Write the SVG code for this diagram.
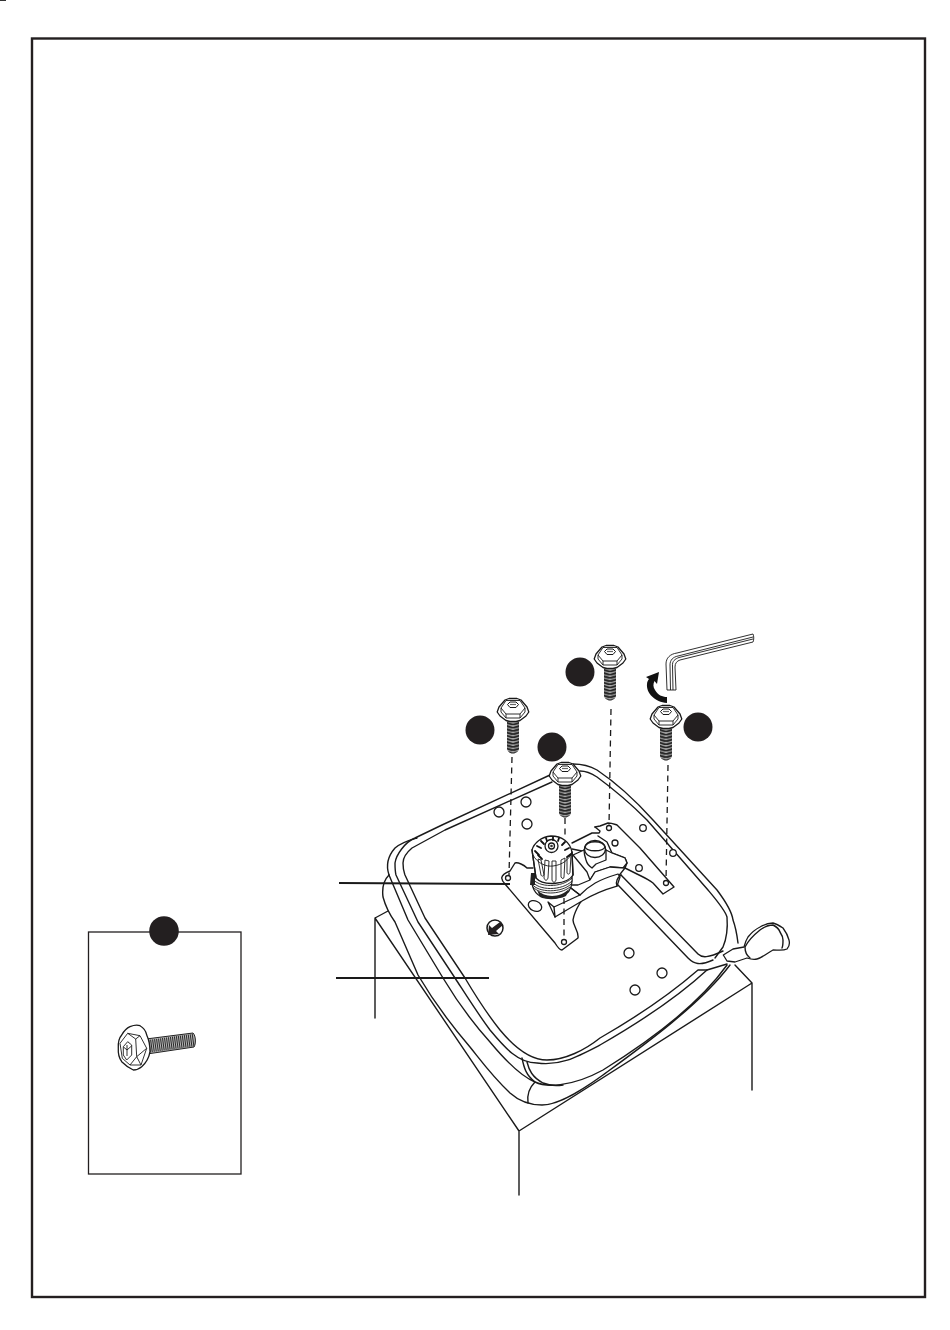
<svg xmlns="http://www.w3.org/2000/svg" xmlns:xlink="http://www.w3.org/1999/xlink" width="950" height="1330" viewBox="0 0 950 1330">
<style>
.l{fill:none;stroke:#1a1a1a;stroke-width:1.4;stroke-linejoin:round;stroke-linecap:round}
.w{fill:#fff;stroke:#1a1a1a;stroke-width:1.3;stroke-linejoin:round}
.t{fill:none;stroke:#1a1a1a;stroke-width:0.9;stroke-linejoin:round}
.h{fill:#fff;stroke:#1a1a1a;stroke-width:1.3}
.d{fill:none;stroke:#1a1a1a;stroke-width:1.3;stroke-dasharray:6 4.5}
.b{fill:#231f20}
</style>
<defs>
<pattern id="thread" patternUnits="userSpaceOnUse" width="12" height="3.2" x="-6" y="12">
<rect width="12" height="3.2" fill="#a8a8a8"/>
<path d="M-1,0.600L6,2.800L13,0.600" fill="none" stroke="#262626" stroke-width="1.900"/>
</pattern>
<g id="screw">
<path d="M-6,11V39C-6,41 -3,43.500 0,43.500C3,43.500 6,41 6,39V11Z" fill="url(#thread)"/>
<path class="w" d="M-15.800,2L-14,-3L-8,-10L-4,-11.500H4L8,-10L14,-3L15.800,2L13,6L7,10.500L3,11.500H-3L-7,10.500L-13,6Z"/>
<path class="t" d="M-12,-2L-7,-9.500H7L12,-2L7,4H-7Z"/>
<path class="t" d="M-12,-2V2L-7,8H7L12,2V-2M-7,4V8M7,4V8"/>
<path d="M-5.500,-5.500L-3,-8H3L5.500,-5.500L3,-2.500H-3Z" fill="#fff" stroke="#1a1a1a" stroke-width="1"/>
<path d="M-3,-5.500H3" stroke="#666" stroke-width="1.200"/>
</g>
</defs>
<rect x="0" y="0" width="6" height="1" fill="#333"/>
<rect id="frame" x="32" y="38.500" width="893" height="1258.500" fill="none" stroke="#231f20" stroke-width="2.400"/>

<g id="box">
<path class="l" d="M388,911L375,918V1018M375,918L519,1131V1195M519,1131L752,983V1090M752,983L735,965"/>
</g>

<g id="seat">
<path class="l" d="M389,875C386,866 388,856 395,848C402,842 410,840 417,838"/>
<path class="l" d="M389,875C383,881 382,889 383,897C386,908 390,915 395,922L418,975C435,1004 452,1026 470,1047C482,1062 492,1076 510,1093C520,1102 530,1105 542,1105C560,1105 585,1088 603,1075C640,1048 700,1005 730,965"/>
<path class="l" d="M389,875L408,920L443,978C458,1003 472,1022 490,1042C505,1060 520,1076 535,1082C545,1087 570,1088 603,1070C640,1047 695,1010 727,965"/>
<path class="l" d="M550,775L442,825L415,838C405,842 396,855 395,863C395,868 395,871 396,875L418,922L455,978C468,998 478,1014 490,1030C505,1048 518,1063 537,1063C560,1066 575,1058 600,1045C640,1022 680,995 707,970L727,964"/>
<path class="l" d="M552,782L445,830L412,848C406,853 403,858 403,863C403,870 404,872 405,875L425,918L465,978C478,1000 488,1015 500,1030C515,1048 530,1060 547,1060C565,1060 585,1050 600,1038C640,1015 675,990 698,970L707,970"/>
<path class="l" d="M522,1058C524,1068 526,1075 535,1082M527,1062C529,1070 532,1077 543,1083C550,1086 556,1086 563,1085M535,1082C529,1088 527,1096 528,1103"/>
<path class="l" d="M573,764C582,764 590,766 597,770C615,782 635,800 653,820L717,890C726,902 732,912 733,920C736,928 737,935 738,943"/>
<path class="l" d="M580,771C587,771 591,773 597,777C612,788 630,803 647,820L708,890C718,902 725,910 727,917C728,930 726,940 723,947L715,958"/>
</g>

<g id="lever">
<path class="w" d="M723.300,955L733,949L744,947C745,943 746,940 748,937C752,932 756,929 760,927C765,924 769,923 773,923C777,924 780,926 783,928C786,932 788,936 789,940C790,944 789,947 787,949C783,951 778,950 773,950C767,953 762,958 757,959C753,960 750,959 747,958L735,962L727,961Z"/>
<path class="l" d="M745,947C749,939 755,934 760,930C764,927 769,925 773,925C777,927 779,929 780,932C782,935 783,937 783,940C783,943 783,946 782,948M745,947C745,951 746,955 750,958"/>
</g>

<g id="holes">
<circle class="h" cx="499" cy="812" r="5"/>
<circle class="h" cx="526" cy="802" r="5"/>
<circle class="h" cx="527" cy="824" r="5"/>
<circle class="h" cx="643" cy="828" r="3.300"/>
<circle class="h" cx="615" cy="843" r="3"/>
<circle class="h" cx="639" cy="868" r="3.300"/>
<circle class="h" cx="673" cy="853" r="3.300"/>
<circle class="h" cx="629" cy="953" r="5"/>
<circle class="h" cx="662" cy="973" r="5"/>
<circle class="h" cx="635" cy="990" r="5"/>
</g>

<g id="warning">
<circle cx="495" cy="928" r="8" fill="#fff" stroke="#1a1a1a" stroke-width="1.500"/>
<path d="M500,922L503,925L496,931L499,934L488,935L489,925L492,928Z" fill="#231f20"/>
</g>

<g id="plate">
<path class="l" d="M533,868L527,868C524,865 518,862 515,863L510,871C505,873 502,875 501.700,878C502,881 503,882 505,884L555,943C558,948 560,950 562,950L578,938C579,931 573,926 573,920C574,913 577,908 580,903C584,897 588,893 593,890C600,886 610,882 617,878"/>
<path class="l" d="M595,827L600,826L608,823C612,823 614,824 617,825L627,835L640,848L674,887L663,894L653,883C648,879 643,877 637,874L625,868"/>
<path class="l" d="M572,843L592,833L599,833C600,832 600,831 600,831L595,827"/>
<path class="l" d="M598,836L607,842L612,853L625,858L627,863L625,868"/>
<path class="l" d="M572,849L582,851"/>
<path class="w" d="M573,855L587,872L590,880L595,872L610,867L623,868L627,863L625,858L612,853L606,850H584Z"/>
<path class="w" d="M584,850C584,854 585,857 586,860C587,864 589,866 592,868L596,864L606,860V850Z"/>
<ellipse class="w" cx="595" cy="849" rx="10.500" ry="8.500"/>
<path class="w" d="M585,847C587,840 603,840 605,847C603,852 587,852 585,847Z"/>
<path class="w" d="M567,885L580,895L617,878L625,868L610,867L595,872L590,880L578,885Z" stroke="none"/>
<path class="w" d="M548,902L554,907L580,895C590,885 598,880 618,874L620,877L617,886C603,890 590,896 582,901L555,917Z"/>
<path class="l" d="M567,885L580,895M554,907L555,917"/>
<ellipse class="w" cx="535" cy="906" rx="7" ry="5" transform="rotate(25 535 906)"/>
<circle class="h" cx="508" cy="878" r="2.500"/>
<circle class="h" cx="564" cy="942" r="2.500"/>
<circle class="h" cx="609" cy="828" r="2.500"/>
<circle class="h" cx="666" cy="883" r="2.500"/>
</g>

<g id="tube">
<path class="l" d="M621,875L698,954C702,958 708,958 723,951"/>
<path class="l" d="M618,885L688,958C694,964 700,966 713,960"/>
<path class="l" d="M617,886C615,882 618,877 621,875"/>
</g>

<g id="knob">
<path class="w" d="M533,874C530,883 533,892 540,896C547,899 558,899 565,895C571,891 573,884 572,874Z"/>
<path d="M537,890C545,898 560,898 569,889L566,896C558,900 546,900 540,897Z" fill="#222"/>
<path class="t" d="M532,878C538,888 562,888 572,878M532,881C538,891 562,891 572,881M532,884C538,893 562,893 571,884M533,887C540,895 560,895 570,887M534,875C540,885 562,885 572,875" stroke-width="1.500"/>
<path d="M531,873H535V885H530Z" fill="#222"/>
<path class="w" d="M532,850C534,843 541,837 551,836C562,836 570,842 572,852L573,875C568,884 544,887 536,878Z"/>
<path class="t" d="M533,855C537,863 546,867 553,866C562,865 569,860 572,852"/>
<circle class="h" cx="551.500" cy="846" r="6.500"/>
<circle class="h" cx="551.500" cy="846" r="3"/>
<circle cx="551.500" cy="846" r="1.300" fill="#333"/>
<path d="M535,851L539,855M537,846L541,848M541,841L544,844M546,838L547,841M553,837V840M559,838L558,841M565,842L562,845M569,848L565,850M571,854L567,857M538,855L542,859" stroke="#111" stroke-width="1.800" stroke-linecap="round"/>
<path class="t" d="M545,860L544,878C545,881 547,881 548,878L549,861ZM552,861L552,880C553,883 555,883 556,880L556,861ZM561,860L561,877C562,879 564,879 564,877L565,858ZM538,859L541,875C542,877 543,876 544,875L541,860ZM567,857L567,873C568,875 570,874 570,872L571,855Z" fill="#555" stroke-width="1"/>
<path class="l" d="M532,850L536,878M572,852L573,875"/>
</g>

<g id="connectors">
<line class="d" x1="512" y1="757" x2="509" y2="875"/>
<line class="d" x1="611" y1="709" x2="609" y2="826"/>
<line class="d" x1="668" y1="765" x2="666" y2="881"/>
<line class="d" x1="565" y1="818" x2="565" y2="838"/>
<line class="d" x1="564" y1="898" x2="564" y2="940"/>
<line x1="339" y1="883" x2="510" y2="884" stroke="#1a1a1a" stroke-width="1.800"/>
<line x1="336" y1="978" x2="489" y2="978" stroke="#1a1a1a" stroke-width="1.800"/>
</g>

<g id="screws">
<use xlink:href="#screw" href="#screw" x="513" y="710"/>
<use xlink:href="#screw" href="#screw" x="610" y="657"/>
<use xlink:href="#screw" href="#screw" x="666" y="717"/>
<use xlink:href="#screw" href="#screw" x="565" y="774"/>
</g>

<g id="callouts">
<circle class="b" cx="480" cy="730" r="14.500"/>
<circle class="b" cx="580" cy="672" r="14.500"/>
<circle class="b" cx="698" cy="727" r="14.500"/>
<circle class="b" cx="552" cy="747" r="14.500"/>
</g>

<g id="hexkey">
<path class="t" stroke-width="1.100" d="M753,634L677,653C670,654 666,658 666,664L667,690H676L675,667C675,663 677,661 680,660L753,642C754,640 754,636 753,634Z" fill="#fff"/>
<path class="t" d="M753,637L678,656C673,657 670,660 670,665L670.500,690M753,639L679,657.500C675,659 672,661 672.500,666L673,690" stroke="#555"/>
</g>

<g id="turn-arrow">
<path d="M667,703C655,702 646,693 647,684C647,682 648,680 649,679L646,677L659,672L657,684L654.500,681C653,684 653,687 655,690C658,695 662,697 667,697Z" fill="#111"/>
</g>

<g id="panel">
<rect x="88.500" y="932" width="152.500" height="242" fill="none" stroke="#231f20" stroke-width="1.300"/>
<circle class="b" cx="164" cy="931" r="14.800"/>
<g id="panel-bolt">
<path d="M146,1039L193,1033C196,1036 196,1044 194,1047L147,1054Z" fill="#b5b5b5" stroke="#222" stroke-width="1"/>
<line x1="147" y1="1046.500" x2="194" y2="1040" stroke="#2a2a2a" stroke-width="12.500" stroke-dasharray="1 1"/>
<path class="w" d="M130,1026.700C134,1025 138,1025 140,1025.700C144,1028 146,1031 146.700,1035C149,1040 150,1046 150,1051.700C149,1058 146,1063 141.700,1066.700C139,1069 136,1070 133.300,1070C129,1068 125,1065 121.700,1061.700C119,1058 118,1053 118.300,1048.300C118,1043 119,1038 121.700,1035C124,1031 127,1028 130,1026.700Z"/>
<path class="t" d="M127.700,1033.300L140,1035.700L146.700,1048.300L141,1065L130,1065"/>
<path class="t" d="M127.700,1033.300L135.700,1039L136.700,1056.700L130,1065L122.300,1058.300L120,1043.300ZM135.700,1039L140,1035.700M136.700,1056.700L146.700,1048.300M136.700,1056.700L141,1065"/>
<path class="t" d="M123.300,1046.700L127.700,1041.700L131.700,1045L131.700,1055L126.700,1060L123.300,1055Z"/>
<path class="t" d="M127,1045V1056M123.500,1047L127,1050L131.500,1046"/>
</g>
</g>
</svg>
